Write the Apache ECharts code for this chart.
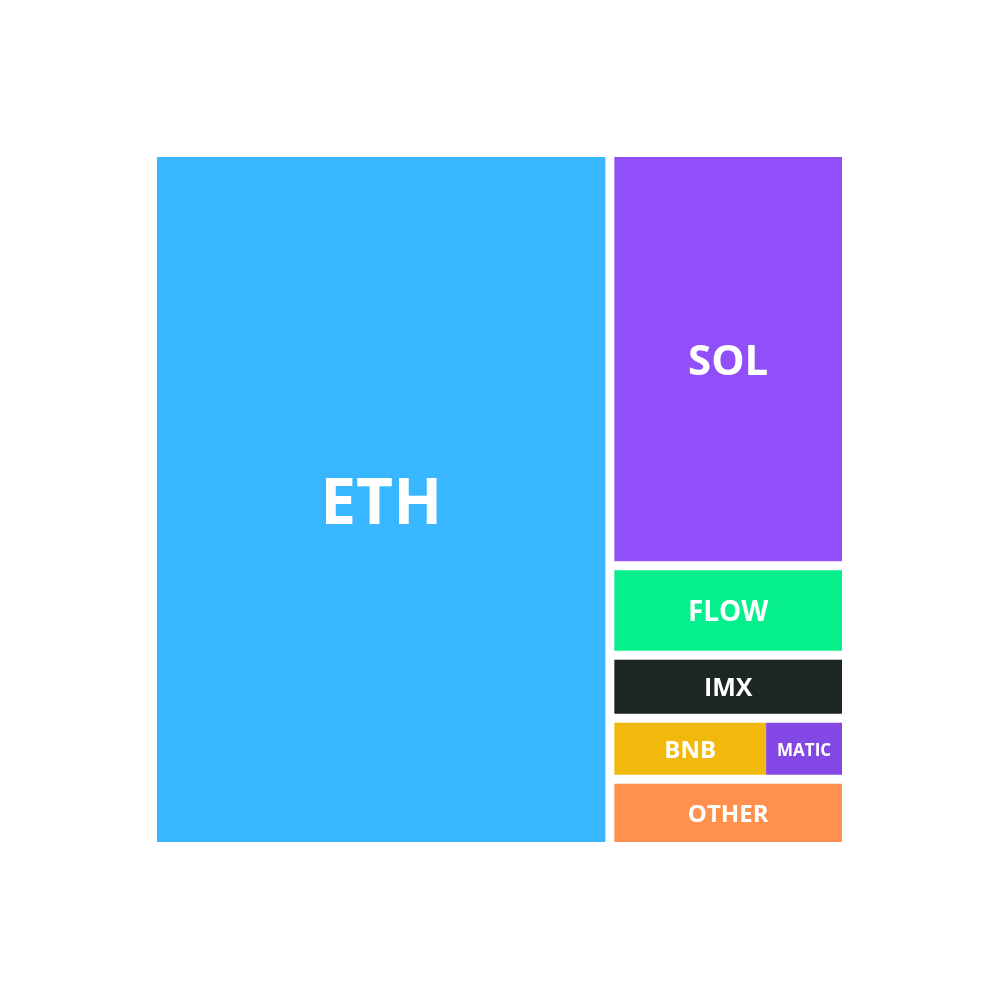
<!DOCTYPE html>
<html>
<head>
<meta charset="utf-8">
<title>Treemap</title>
<script src="https://cdn.jsdelivr.net/npm/echarts@6/dist/echarts.min.js"></script>
<style>
  html, body { margin: 0; padding: 0; background: #fff; }
  #main { width: 1000px; height: 1000px; }
</style>
</head>
<body>
<div id="main"></div>
<script>
// 各链占比 (%)
const names = ['ETH', 'SOL', 'FLOW', 'IMX', 'BNB', 'MATIC', 'OTHER'];
const shares = [65.9, 20.3, 4.4, 3.1, 2.0, 1.0, 3.3];
const colors = ['#38b6ff', '#914ffa', '#05f08c', '#1c2722', '#f0b90b', '#8247e5', '#ff914d'];
const labelSizes = [64, 42, 28, 25, 24, 17, 24];

let chart;

window.onload = function () {
  chart = echarts.init(document.getElementById('main'));
  render();
};

// 单个叶子节点
function leaf(name) {
  const i = names.indexOf(name);
  const size = labelSizes[i];
  return {
    name,
    value: shares[i],
    itemStyle: { color: colors[i] },
    // 字体上方留白较多，稍微往下挪一点
    label: { fontSize: size, offset: [0, Math.round(size * 0.09)] },
  };
}

function render() {
  // 分组只是为了得到和原图相同的排列
  const data = [
    leaf('ETH'),
    {
      name: 'rest',
      children: [
        { name: 'top', children: [leaf('SOL'), leaf('FLOW')] },
        {
          name: 'small',
          children: [
            leaf('IMX'),
            {
              name: 'bnb-matic',
              itemStyle: { gapWidth: 0 },
              children: [leaf('BNB'), leaf('MATIC')],
            },
            leaf('OTHER'),
          ],
        },
      ],
    },
  ];

  const option = {
    animation: false,
    series: [{
      type: 'treemap',
      left: 157,
      top: 157,
      width: 685,
      height: 685,
      sort: false,
      squareRatio: 3,
      roam: false,
      nodeClick: false,
      breadcrumb: { show: false },
      itemStyle: {
        borderWidth: 0,
        gapWidth: 9,
        borderColor: '#fff',
      },
      label: {
        show: true,
        position: 'inside',
        align: 'center',
        verticalAlign: 'middle',
        color: '#fff',
        fontFamily: 'Open Sans',
        fontWeight: 'bold',
        formatter: '{b}',
      },
      upperLabel: { show: false },
      data,
    }],
  };

  chart.setOption(option);
}
</script>
</body>
</html>
